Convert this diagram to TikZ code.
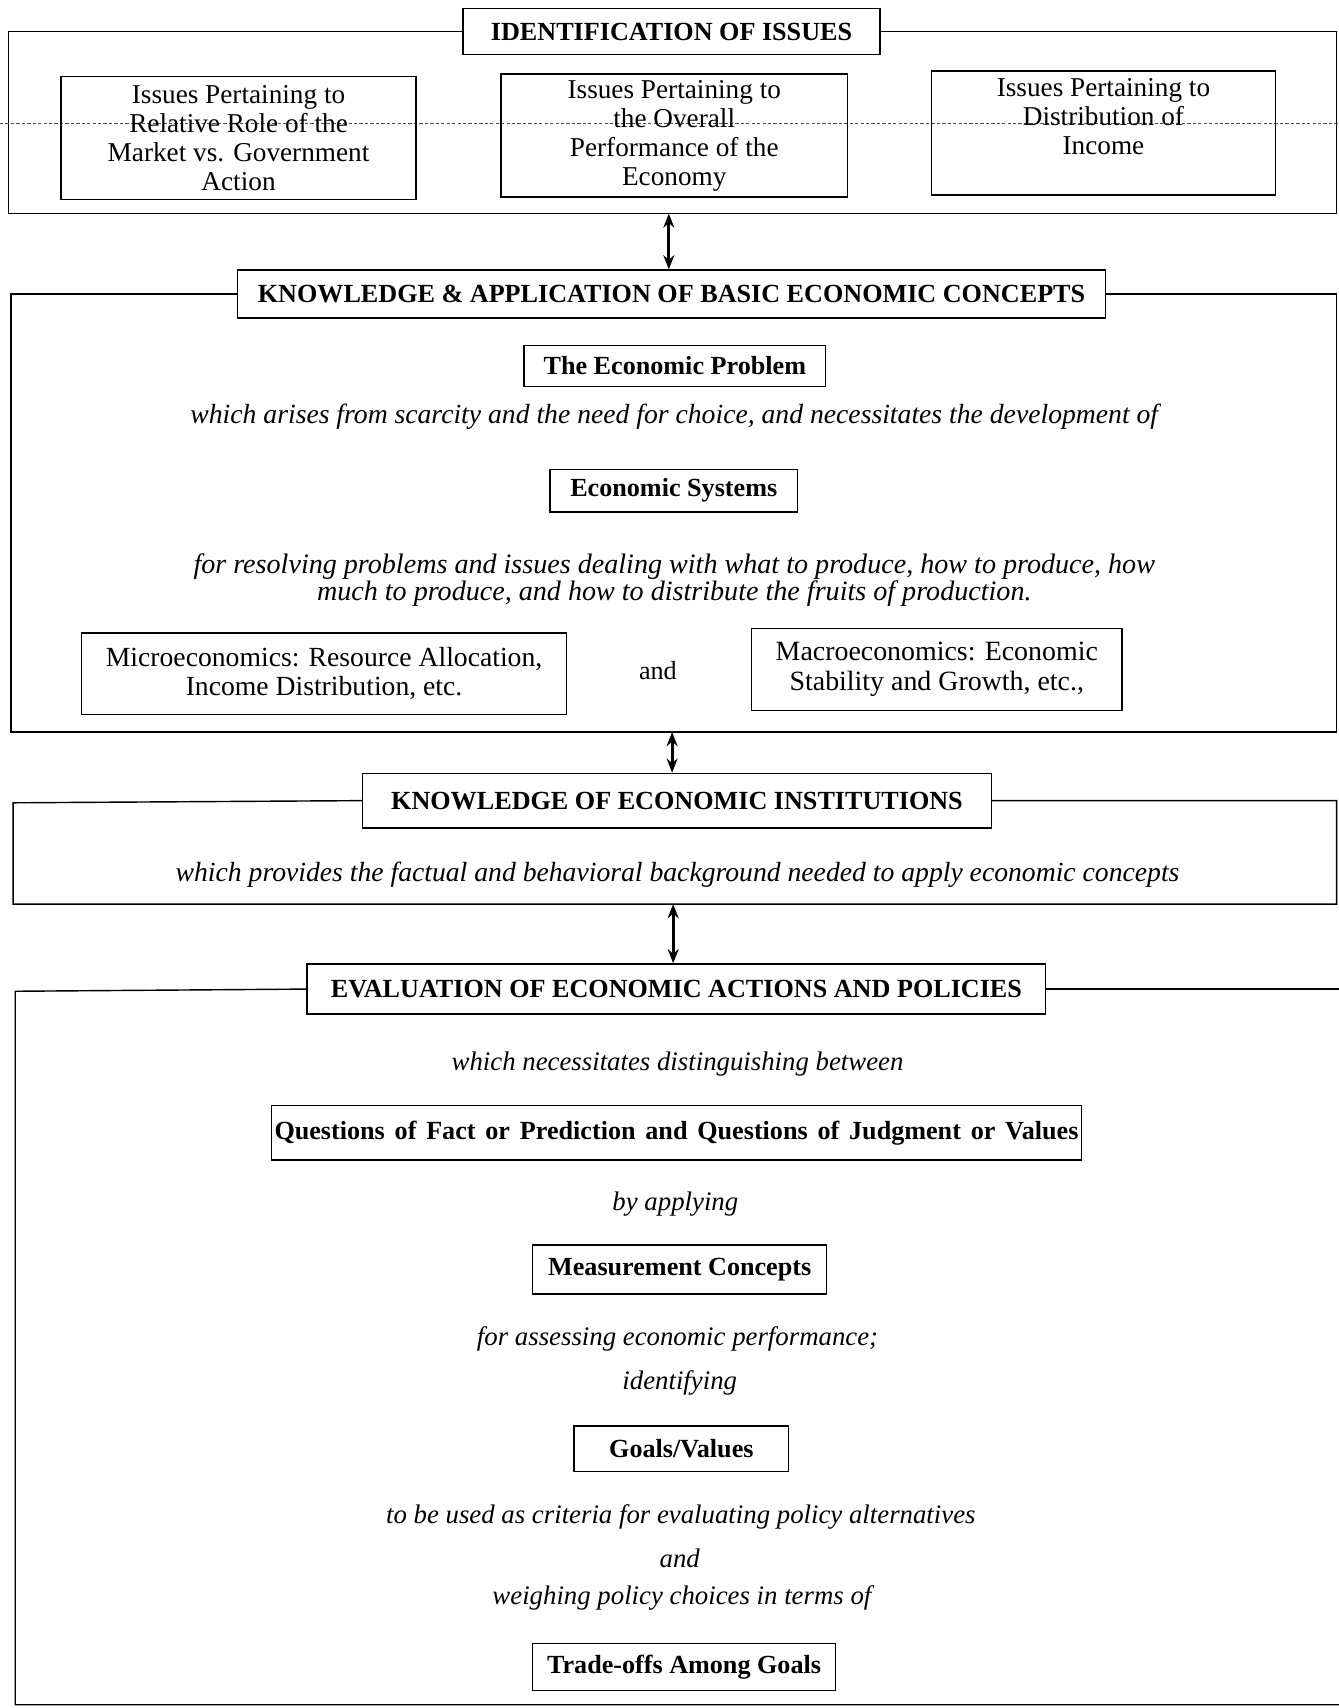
\documentclass[tikz,border=0pt]{standalone}
\usepackage{fontspec}
\setmainfont{Liberation Serif}
\usetikzlibrary{arrows.meta}
\newcommand\myfs{\fontsize{24}{26.5}\selectfont}
\newcommand\myfsa{\fontsize{25}{26.7}\selectfont}
\newcommand\myfsi{\fontsize{25.4}{25}\selectfont}
\newcommand\myfsj{\fontsize{24.6}{25}\selectfont}
\tikzset{
  box/.style={draw, line width=1.3pt, inner sep=0pt, align=center, font=\myfs},
  titlebox/.style={box, font=\myfs\bfseries},
  innerbox/.style={box, font=\myfs\bfseries},
  plainbox/.style={box, font=\myfsa},
  itx/.style={inner sep=0pt, align=center, font=\myfsi\itshape},
  itxs/.style={inner sep=0pt, align=center, font=\myfsj\itshape},
  plaintx/.style={inner sep=0pt, align=center, font=\myfs},
  frameline/.style={line width=1.3pt},
  dbl/.style={line width=2.8pt, {Stealth[length=13pt,width=10pt]}-{Stealth[length=13pt,width=10pt]}},
  scanline/.style={line width=0.6pt, black!70, densely dashed}
}
\begin{document}
\begin{tikzpicture}[x=1pt,y=-1pt]
\useasboundingbox (0,0) rectangle (1229,1568);
\fill[white] (0,0) rectangle (1229,1568);

% ---------- Section 1 ----------
\node[titlebox, minimum width=383pt, minimum height=42pt] (title1) at (616.5,29) {IDENTIFICATION OF ISSUES};
\draw[frameline] (title1.west) -- (8,29) -- (8,196) -- (1227,196) -- (1227,29) -- (title1.east);
\draw[scanline] (0,113) -- (1229,113);
\node[plainbox, minimum width=326pt, minimum height=113pt] (issA) at (219,126.5)
  {Issues Pertaining to\\Relative Role of the\\Market vs. Government\\Action};
\node[plainbox, minimum width=318pt, minimum height=113pt] (issB) at (619,124.5)
  {Issues Pertaining to\\the Overall\\Performance of the\\Economy};
\node[plainbox, minimum width=316pt, minimum height=114pt] (issC) at (1013,122) {};
\node[plaintx, font=\myfsa] (issCtext) at (1013,107) {Issues Pertaining to\\Distribution of\\Income};

% ---------- Section 2 ----------
\node[titlebox, minimum width=797pt, minimum height=44pt] (title2) at (616.5,270)
  {KNOWLEDGE \& APPLICATION OF BASIC ECONOMIC CONCEPTS};
\draw[frameline] (title2.west) -- (10,270) -- (10,672) -- (1227,672) -- (1227,270) -- (title2.east);
\coordinate (f1b) at (614,196);
\draw[dbl] (f1b) -- (f1b |- title2.north);

\node[innerbox, minimum width=277pt, minimum height=38pt] (prob) at (619.5,336) {The Economic Problem};
\node[itx] (it1) at (619,383) {which arises from scarcity and the need for choice, and necessitates the development of};
\node[innerbox, minimum width=227pt, minimum height=39pt] (sys) at (618.5,450.5) {Economic Systems};
\node[itx, font=\fontsize{25.8}{25}\selectfont\itshape] (it2) at (619,532.5)
  {for resolving problems and issues dealing with what to produce, how to produce, how\\much to produce, and how to distribute the fruits of production.};
\node[box, minimum width=445pt, minimum height=75pt, font=\fontsize{25.4}{27}\selectfont] (micro) at (297.5,618.5)
  {Microeconomics: Resource Allocation,\\Income Distribution, etc.};
\node[plaintx] (and1) at (604,616) {and};
\node[box, minimum width=340pt, minimum height=75pt, font=\fontsize{25.6}{27}\selectfont] (macro) at (860,614.5)
  {Macroeconomics: Economic\\Stability and Growth, etc.,};

% ---------- Section 3 ----------
\node[titlebox, minimum width=577pt, minimum height=50pt] (title3) at (621.5,735) {KNOWLEDGE OF ECONOMIC INSTITUTIONS};
\draw[frameline] (title3.west) -- (12,737) -- (12,830) -- (1227,830) -- (1227,735) -- (title3.east);
\coordinate (f2b) at (617,672);
\draw[dbl] (f2b) -- (f2b |- title3.north);
\node[itx] (it3) at (622,803) {which provides the factual and behavioral background needed to apply economic concepts};

% ---------- Section 4 ----------
\node[titlebox, minimum width=678pt, minimum height=46pt] (title4) at (621,908) {EVALUATION OF ECONOMIC ACTIONS AND POLICIES};
\draw[frameline] (title4.west) -- (14,910) -- (14,1565) -- (1229,1565);
\draw[frameline] (title4.east) -- (1229,908);
\coordinate (f3b) at (618,830);
\draw[dbl] (f3b) -- (f3b |- title4.north);

\node[itxs] (it4a) at (622,977) {which necessitates distinguishing between};
\node[innerbox, minimum width=744pt, minimum height=50pt] (quest) at (621,1040)
  {\makebox[738pt][s]{Questions of Fact or Prediction and Questions of Judgment or Values}};
\node[itxs] (it4b) at (620,1105) {by applying};
\node[innerbox, minimum width=270pt, minimum height=45pt] (meas) at (624,1165.5) {Measurement Concepts};
\node[itxs] (it4c) at (622,1229) {for assessing economic performance;};
\node[itxs] (it4d) at (624,1270) {identifying};
\node[innerbox, minimum width=197pt, minimum height=42pt] (goals) at (625.5,1330) {Goals/Values};
\node[itxs] (it4e) at (625,1393) {to be used as criteria for evaluating policy alternatives};
\node[itxs] (it4f) at (624,1431) {and};
\node[itxs] (it4g) at (626,1467) {weighing policy choices in terms of};
\node[innerbox, minimum width=278pt, minimum height=43pt] (trade) at (628,1530.5) {Trade-offs Among Goals};
\end{tikzpicture}
\end{document}
